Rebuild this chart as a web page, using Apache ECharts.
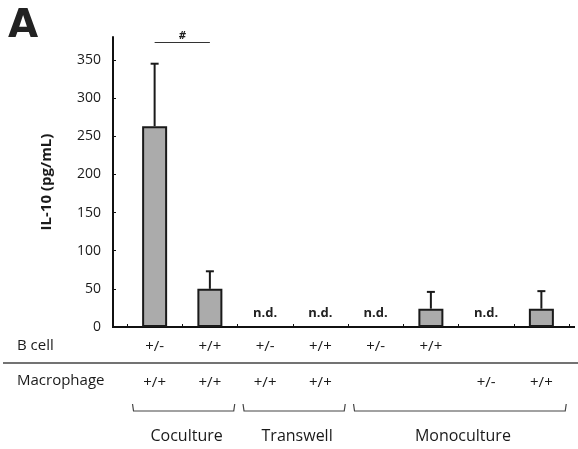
<!DOCTYPE html>
<html>
<head>
<meta charset="utf-8">
<script src="https://cdn.jsdelivr.net/npm/echarts@6/dist/echarts.min.js"></script>
<style>
html,body{margin:0;padding:0;background:#fff;}
#chart{width:578px;height:449px;}
</style>
</head>
<body>
<div id="chart"></div>
<script>
// ---- data ----
var categories = ['1','2','3','4','5','6','7','8'];
var bCellLabels = ['+/-','+/+','+/-','+/+','+/-','+/+','',''];
var macrophageLabels = ['+/+','+/+','+/+','+/+','','','+/-','+/+'];
var il10Values = [263, 50, 0, 0, 0, 24, 0, 24];
var il10Errors = [82, 23, 0, 0, 0, 22, 0, 23];
var notDetected = [false, false, true, true, true, false, true, false];
var groupNames = ['Coculture', 'Transwell', 'Monoculture'];
var groupStart = [0, 2, 4];
var groupEnd = [1, 3, 7];
var yTicks = [0, 50, 100, 150, 200, 250, 300, 350];
var sigPair = [0, 1];
var sigLevel = 373;

var FONT = 'Open Sans';
var TXT = '#1a1a1a';

var barData = il10Values.map(function (v, i) {
  return notDetected[i] ? { value: v, itemStyle: { borderWidth: 0, color: 'rgba(0,0,0,0)' } } : v;
});
var errData = il10Values.map(function (v, i) { return [i, v, il10Errors[i]]; })
  .filter(function (d) { return d[2] > 0; });
var groupData = groupNames.map(function (n, i) { return [groupStart[i], groupEnd[i], n]; });

var chart = echarts.init(document.getElementById('chart'), null, { renderer: 'canvas' });
var option = {
  backgroundColor: '#fff',
  animation: false,
  textStyle: { fontFamily: FONT, color: TXT },
  grid: { left: 127, right: 9, top: 37, bottom: 122, containLabel: false },
  graphic: [
    { type: 'text', left: 8, top: 7, style: { text: 'A', font: 'bold 39px "DejaVu Sans"', fill: '#222' } },
    { type: 'text', left: 17, top: 338, style: { text: 'B cell', font: '15px "Open Sans"', fill: TXT } },
    { type: 'text', left: 17, top: 373, style: { text: 'Macrophage', font: '15px "Open Sans"', fill: TXT } },
    { type: 'line', shape: { x1: 3, y1: 363, x2: 578, y2: 363 }, style: { stroke: '#444', lineWidth: 1.3 } },
    { type: 'line', shape: { x1: 112, y1: 327, x2: 575, y2: 327 }, style: { stroke: '#111', lineWidth: 2 } }
  ],
  xAxis: [
    {
      type: 'category', data: categories, position: 'bottom',
      axisLine: { show: true, lineStyle: { color: '#111', width: 2 } },
      axisTick: { show: true, inside: true, length: 3, lineStyle: { color: '#111' } },
      axisLabel: { margin: 12, fontSize: 15, color: TXT, fontFamily: FONT,
        formatter: function (v, i) { return bCellLabels[i]; } }
    },
    {
      type: 'category', data: categories, position: 'bottom', offset: 36,
      axisLine: { show: false }, axisTick: { show: false },
      axisLabel: { margin: 12, fontSize: 15, color: TXT, fontFamily: FONT,
        formatter: function (v, i) { return macrophageLabels[i]; } }
    }
  ],
  yAxis: {
    type: 'value', min: 0, max: 380, interval: 50, offset: 14,
    name: 'IL-10 (pg/mL)', nameLocation: 'middle', nameGap: 59,
    nameTextStyle: { fontSize: 15, fontWeight: 'bold', color: TXT, fontFamily: FONT, padding: [0, 0, 0, 0] },
    axisLine: { show: true, lineStyle: { color: '#111', width: 2 } },
    axisTick: { show: true, inside: true, length: 3, lineStyle: { color: '#111' } },
    splitLine: { show: false },
    axisLabel: { fontSize: 14, color: TXT, margin: 12, fontFamily: FONT, showMaxLabel: false,
      formatter: function (v) { return yTicks.indexOf(v) >= 0 ? String(v) : ''; } }
  },
  series: [
    {
      type: 'bar', data: barData, barWidth: 25, xAxisIndex: 0,
      itemStyle: { color: '#ababab', borderColor: '#1a1a1a', borderWidth: 2 },
      label: {
        show: true, position: 'top', distance: 7, fontSize: 13, fontWeight: 'bold',
        color: '#222', fontFamily: FONT,
        formatter: function (p) { return notDetected[p.dataIndex] ? 'n.d.' : ''; }
      },
      markLine: {
        silent: true, symbol: 'none', animation: false,
        lineStyle: { color: '#333', width: 1.2, type: 'solid' },
        label: { show: true, position: 'middle', formatter: '#', fontSize: 11,
          fontStyle: 'italic', fontWeight: 'bold', color: '#222', distance: 1 },
        data: [[{ coord: [sigPair[0], sigLevel] }, { coord: [sigPair[1], sigLevel] }]]
      }
    },
    {
      type: 'custom', data: errData, xAxisIndex: 0, z: 1,
      renderItem: function (params, api) {
        var base = api.coord([api.value(0), api.value(1)]);
        var top = api.coord([api.value(0), api.value(1) + api.value(2)]);
        return {
          type: 'group',
          children: [
            { type: 'line', shape: { x1: base[0], y1: base[1], x2: top[0], y2: top[1] },
              style: { stroke: '#1a1a1a', lineWidth: 2 } },
            { type: 'line', shape: { x1: top[0] - 4, y1: top[1], x2: top[0] + 4, y2: top[1] },
              style: { stroke: '#1a1a1a', lineWidth: 2 } }
          ]
        };
      }
    },
    {
      type: 'custom', data: groupData, xAxisIndex: 0, clip: false,
      renderItem: function (params, api) {
        var p1 = api.coord([api.value(0), 0]);
        var p2 = api.coord([api.value(1), 0]);
        var band = api.size([1, 0])[0];
        var x1 = p1[0] - band * 0.4, x2 = p2[0] + band * 0.45;
        var yTop = p1[1] + 77, yBot = p1[1] + 84;
        var name = groupNames[params.dataIndex];
        return {
          type: 'group',
          children: [
            { type: 'polyline', shape: { points: [[x1, yTop], [x1 + 1, yBot], [x2 - 1, yBot], [x2, yTop]] },
              style: { stroke: '#444', lineWidth: 1.2, fill: null } },
            { type: 'text', style: { text: name, x: (x1 + x2) / 2 + 3, y: p1[1] + 109,
              align: 'center', verticalAlign: 'middle', font: '16px "Open Sans"', fill: TXT } }
          ]
        };
      }
    }
  ]
};
chart.setOption(option);
</script>
</body>
</html>
